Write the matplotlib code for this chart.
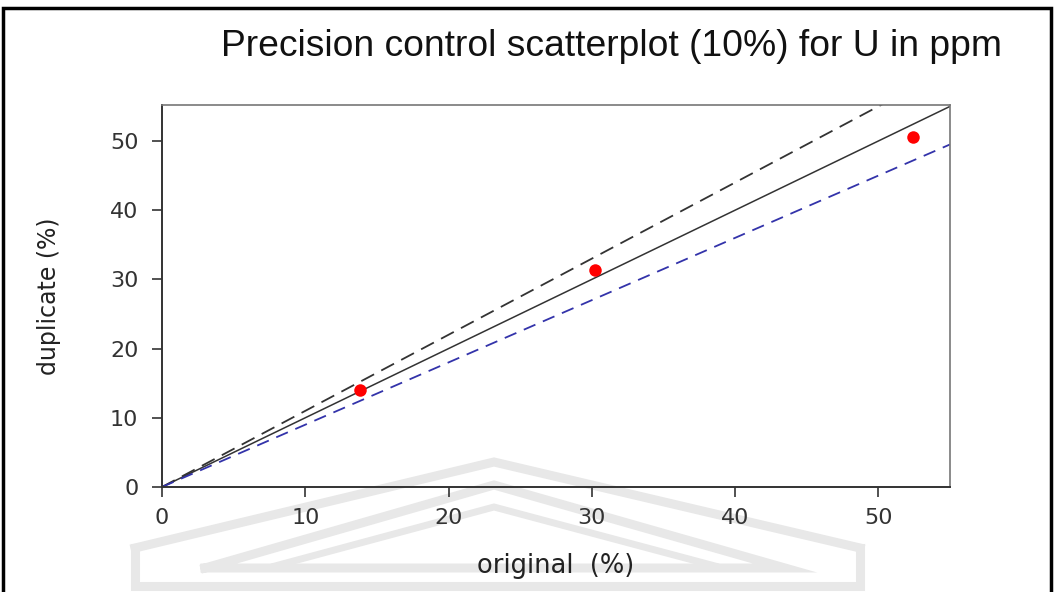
import numpy as np
import matplotlib.pyplot as plt
from matplotlib.patches import Rectangle
from matplotlib.lines import Line2D

# data
original = [13.8, 30.2, 52.4]
duplicate = [14.0, 31.4, 50.6]
precision = 0.10
xticks = [0, 10, 20, 30, 40, 50]
yticks = [0, 10, 20, 30, 40, 50]

plt.rcParams['font.family'] = ['DejaVu Sans']

W, H = 1054, 592
fig = plt.figure(figsize=(W / 100, H / 100), dpi=100)

# faint scanned logo watermark behind the plot (pixel positions)
def band(px, py, lw=6.5):
    fig.add_artist(Line2D(np.array(px) / W, 1 - np.array(py) / H, transform=fig.transFigure,
                          color='#e8e8e8', lw=lw, solid_joinstyle='miter', zorder=0))

band([135, 494, 860], [548, 462, 548])
band([205, 494, 785, 205], [568, 485, 568, 568])
band([275, 494, 715], [566, 507, 566], lw=5)
band([135, 135, 860, 860], [548, 586, 586, 548])

ax = fig.add_axes([0.1537, 0.1774, 0.7476, 0.6452])
ax.set_facecolor('none')

xs = np.array([0, 55])
ax.plot(xs, xs, color='#333333', lw=1.1)
ax.plot(xs, xs * (1 + precision), color='#333333', lw=1.3, ls=(0, (8, 4.5)))
ax.plot(xs, xs * (1 - precision), color='#3333aa', lw=1.3, ls=(0, (7, 4.5)))
ax.plot(original, duplicate, 'o', color='red', ms=9, mec='none')

ax.set_xlim(0, 55)
ax.set_ylim(0, 55.2)
ax.set_xticks(xticks)
ax.set_yticks(yticks)
ax.tick_params(direction='out', length=7, width=1.2, labelsize=16, colors='#333333')
ax.tick_params(axis='y', pad=10)
ax.tick_params(axis='x', pad=8)
for s in ['left', 'bottom']:
    ax.spines[s].set_color('#333333')
    ax.spines[s].set_linewidth(1.4)
for s in ['top', 'right']:
    ax.spines[s].set_color('#777777')
    ax.spines[s].set_linewidth(1.2)

ax.set_xlabel('original  (%)', fontsize=18.5, color='#222222', labelpad=18)
ax.set_ylabel('duplicate (%)', fontsize=17, color='#222222', labelpad=35)

fig.text(0.58, 0.922, 'Precision control scatterplot (10%) for U in ppm',
         ha='center', va='center', fontsize=26.8, color='#111111',
         family=['Liberation Sans', 'DejaVu Sans'])

# black frame round the image
fig.patches.append(Rectangle((0.003, -0.1), 0.994, 1.087, transform=fig.transFigure,
                             fill=False, ec='black', lw=2.5))

fig.savefig('out.png', dpi=100)
